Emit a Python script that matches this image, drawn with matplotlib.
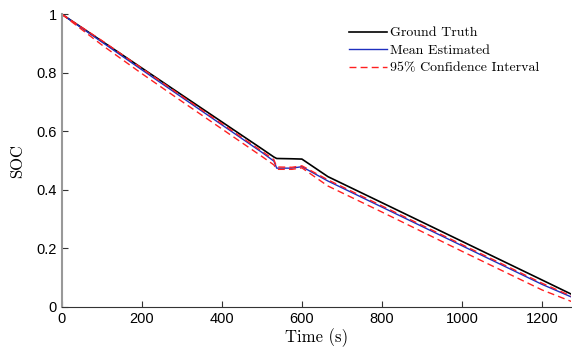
import matplotlib.pyplot as plt

time = [0, 100, 200, 300, 400, 500, 530, 537, 575, 600, 665, 800, 900, 1000, 1100, 1200, 1280]
ground_truth = [1.0, 0.908, 0.816, 0.724, 0.632, 0.540, 0.512, 0.507, 0.506, 0.505, 0.445, 0.356, 0.290, 0.224, 0.158, 0.092, 0.039]
mean_est = [1.0, 0.905, 0.810, 0.716, 0.622, 0.528, 0.498, 0.474, 0.474, 0.479, 0.430, 0.341, 0.275, 0.209, 0.143, 0.077, 0.030]
ci_upper = [1.0, 0.910, 0.815, 0.720, 0.626, 0.532, 0.503, 0.478, 0.477, 0.482, 0.434, 0.345, 0.279, 0.213, 0.147, 0.081, 0.033]
ci_lower = [1.0, 0.895, 0.797, 0.702, 0.608, 0.514, 0.485, 0.470, 0.470, 0.475, 0.413, 0.324, 0.257, 0.190, 0.124, 0.058, 0.015]

serif = 'cmr10'

fig = plt.figure(figsize=(5.72, 3.54), dpi=100)
ax = fig.add_axes([0.108, 0.133, 0.89, 0.827])

ax.plot(time, ground_truth, color='black', lw=1.2, label='Ground Truth')
ax.plot(time, mean_est, color='#1f2fbf', lw=1.0, label='Mean Estimated')
ax.plot(time, ci_upper, color='#ff2020', lw=1.0, ls=(0, (5, 3)), label='95% Confidence Interval')
ax.plot(time, ci_lower, color='#ff2020', lw=1.0, ls=(0, (5, 3)))

ax.set_xlim(0, 1272)
ax.set_ylim(0, 1)
ax.set_xticks([0, 200, 400, 600, 800, 1000, 1200])
ax.set_yticks([0, 0.2, 0.4, 0.6, 0.8, 1])
ax.set_yticklabels(['0', '0.2', '0.4', '0.6', '0.8', '1'])
for lab in ax.get_xticklabels() + ax.get_yticklabels():
    lab.set_fontfamily('Liberation Sans')
    lab.set_fontsize(10.5)
ax.tick_params(direction='in', length=4, width=0.8, colors='#333333', labelcolor='black')

ax.spines['top'].set_visible(False)
ax.spines['right'].set_visible(False)
ax.spines['left'].set_color('#999999')
ax.spines['left'].set_linewidth(1.5)
ax.spines['bottom'].set_color('#333333')

ax.set_xlabel('Time (s)', family=serif, fontsize=12, labelpad=2)
ax.set_ylabel('SOC', family=serif, fontsize=12, labelpad=8)

ax.legend(loc='upper right', bbox_to_anchor=(0.962, 1.0), frameon=False,
          prop={'family': serif, 'size': 10}, handlelength=2.7,
          handletextpad=0.2, labelspacing=0.35)

plt.savefig('out.png', dpi=100)
